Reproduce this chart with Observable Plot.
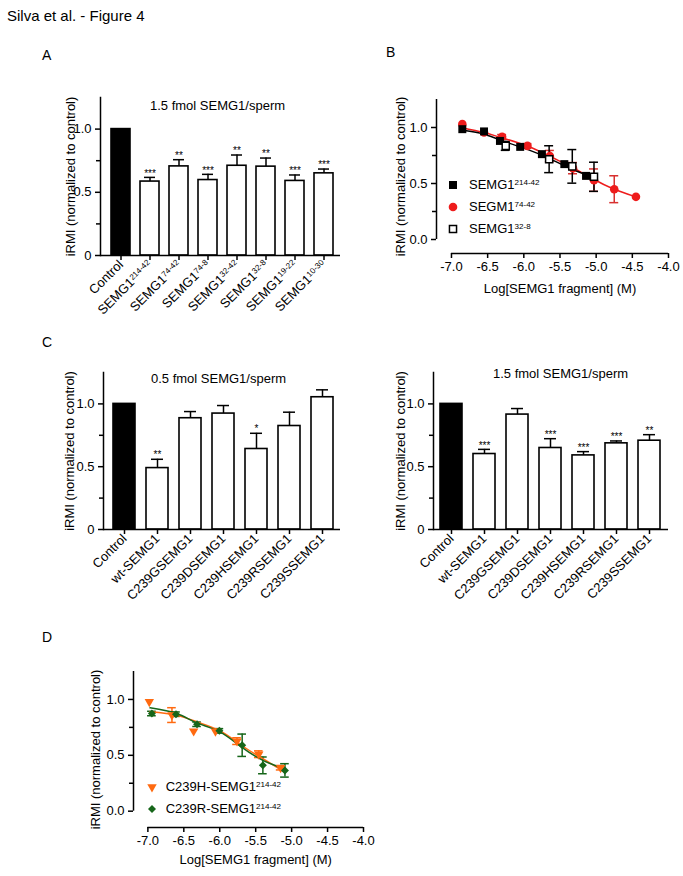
<!DOCTYPE html>
<html>
<head>
<meta charset="utf-8">
<script src="https://cdn.jsdelivr.net/npm/d3@7"></script>
<script src="https://cdn.jsdelivr.net/npm/@observablehq/plot@0.6"></script>
<style>
  html, body { margin: 0; padding: 0; background: #fff; }
  body { font-family: "Liberation Sans", Arimo, Arial, Helvetica, sans-serif; color: #000; }
  #fig { position: relative; width: 683px; height: 876px; overflow: hidden; background: #fff; }
  .abs { position: absolute; }
  .figtitle { font-size: 15px; line-height: 15px; white-space: nowrap; }
  .letter { font-size: 14px; line-height: 14px; }
  .legend { display: flex; align-items: center; height: 16px; font-size: 13px; line-height: 16px; white-space: nowrap; }
  .legend sup { font-size: 0.62em; vertical-align: 0.45em; line-height: 0; }
  svg text { -webkit-font-smoothing: antialiased; }
</style>
</head>
<body>
<div id="fig"></div>
<script>
const FONT = '"Liberation Sans", Arimo, Arial, Helvetica, sans-serif';

// ---------- Panel A : 1.5 fmol SEMG1/sperm (fragments) ----------
const aLabels = ["Control", "SEMG1^214-42", "SEMG1^74-42", "SEMG1^74-8", "SEMG1^32-42", "SEMG1^32-8", "SEMG1^19-22", "SEMG1^10-30"];
const aValues = [1.0, 0.585, 0.705, 0.597, 0.71, 0.703, 0.59, 0.65];
const aErrors = [0, 0.033, 0.053, 0.045, 0.085, 0.068, 0.047, 0.034];
const aStars  = ["", "***", "**", "***", "**", "**", "***", "***"];

// ---------- Panel C : mutants ----------
const cLabels = ["Control", "wt-SEMG1", "C239GSEMG1", "C239DSEMG1", "C239HSEMG1", "C239RSEMG1", "C239SSEMG1"];
const c05Values = [1.0, 0.489, 0.886, 0.923, 0.641, 0.824, 1.053];
const c05Errors = [0, 0.07, 0.053, 0.064, 0.125, 0.11, 0.059];
const c05Stars  = ["", "**", "", "", "*", "", ""];
const c15Values = [1.0, 0.601, 0.915, 0.649, 0.59, 0.686, 0.707];
const c15Errors = [0, 0.037, 0.048, 0.074, 0.03, 0.019, 0.048];
const c15Stars  = ["", "***", "", "***", "***", "***", "**"];

// ---------- Panel B : dose response ----------
const b214X = [-6.85, -6.55, -6.33, -6.05, -5.75, -5.44, -5.14];
const b214Y = [0.985, 0.965, 0.88, 0.827, 0.762, 0.673, 0.568];
const b74X = [-6.85, -6.55, -6.3, -5.95, -5.64, -5.32, -5.03, -4.75, -4.45];
const b74Y = [1.03, 0.955, 0.917, 0.836, 0.745, 0.637, 0.53, 0.449, 0.381];
const b74Err = [0, 0, 0.02, 0.02, 0.05, 0.05, 0.1, 0.12, 0];
const b328X = [-6.25, -5.65, -5.33, -5.03];
const b328Y = [0.836, 0.717, 0.653, 0.56];
const b328Err = [0.04, 0.12, 0.15, 0.13];
const bFit74X = [-6.87, -6.55, -6.32, -5.96, -5.63, -5.31, -5.04, -4.76, -4.46];
const bFit74Y = [1.0, 0.955, 0.911, 0.837, 0.739, 0.638, 0.54, 0.451, 0.383];
const bFit214X = [-6.87, -6.55, -6.23, -5.96, -5.63, -5.31, -5.04];
const bFit214Y = [0.977, 0.94, 0.866, 0.807, 0.718, 0.62, 0.555];

// ---------- Panel D : mutant fragments ----------
const dHX = [-6.98, -6.665, -6.363, -6.06, -5.76, -5.457, -5.153];
const dHY = [0.979, 0.86, 0.716, 0.715, 0.627, 0.51, 0.389];
const dHErr = [0, 0.066, 0, 0, 0.03, 0.03, 0.02];
const dRX = [-6.944, -6.609, -6.316, -6.005, -5.688, -5.4, -5.093];
const dRY = [0.874, 0.868, 0.778, 0.719, 0.59, 0.41, 0.365];
const dRErr = [0.02, 0.02, 0.02, 0.02, 0.1, 0.075, 0.06];
const dFitX = [-6.97, -6.6, -6.32, -6.0, -5.7, -5.4, -5.1];
const dFitHY = [0.889, 0.859, 0.8, 0.72, 0.59, 0.47, 0.35];
const dFitRY = [0.925, 0.874, 0.79, 0.71, 0.575, 0.455, 0.38];

const logTicks = [-7, -6.5, -6, -5.5, -5, -4.5, -4];
const yMajor = [0, 0.5, 1];
const yMinor = [0.25, 0.75];
const Y_LABEL = "iRMI (normalized to control)";
const X_LABEL = "Log[SEMG1 fragment] (M)";

const RED = "#ee1c1c", RED_ERR = "#d8302f", ORANGE = "#ff6a10", GREEN = "#16661a";

const fig = document.getElementById("fig");

function supify(root) {
  d3.select(root).selectAll("text").each(function () {
    const t = this.textContent;
    if (!t || !t.includes("^")) return;
    const [base, sup] = t.split("^");
    const sel = d3.select(this);
    sel.text(base);
    sel.append("tspan").attr("dy", "-0.45em").attr("font-size", "0.62em").text(sup);
  });
}
function place(node, left, top) {
  const d = document.createElement("div");
  d.className = "abs";
  d.style.left = left + "px";
  d.style.top = top + "px";
  d.appendChild(node);
  fig.appendChild(d);
  supify(node);
  return d;
}
function htmlText(cls, text, left, top) {
  const d = document.createElement("div");
  d.className = "abs " + cls;
  d.style.left = left + "px";
  d.style.top = top + "px";
  d.textContent = text;
  fig.appendChild(d);
}
function supHTML(s) {
  const [a, b] = s.split("^");
  return b ? `${a}<sup>${b}</sup>` : a;
}
function legend(items, cx, ys, textX) {
  items.forEach((it, i) => {
    const row = document.createElement("div");
    row.className = "abs legend";
    row.style.left = (cx - 7) + "px";
    row.style.top = (ys[i] - 8) + "px";
    const svg = d3.create("svg").attr("width", 14).attr("height", 16).style("display", "block").style("flex", "none");
    svg.append("path")
      .attr("transform", `translate(7,8) rotate(${it.rotate || 0})`)
      .attr("d", d3.symbol(it.symbol, Math.PI * it.r * it.r)())
      .attr("fill", it.fill)
      .attr("stroke", it.stroke || "none")
      .attr("stroke-width", it.sw || 0);
    row.appendChild(svg.node());
    const span = document.createElement("span");
    span.innerHTML = supHTML(it.label);
    span.style.marginLeft = (textX - (cx + 7)) + "px";
    row.appendChild(span);
    fig.appendChild(row);
  });
}

const baseStyle = {fontFamily: FONT, fontSize: "13px", color: "black", background: "transparent", overflow: "visible"};

function barPanel(o) {
  const data = o.labels.map((name, i) => ({name, value: o.values[i], err: o.errors[i], star: o.stars[i]}));
  const withErr = data.filter(d => d.err > 0);
  const starred = data.filter(d => d.star);
  return Plot.plot({
    width: o.width, height: o.height,
    marginLeft: o.ml, marginRight: o.mr, marginTop: o.mt, marginBottom: o.mb,
    style: baseStyle,
    x: {domain: o.labels, paddingInner: o.pi, paddingOuter: o.po, align: o.align},
    y: {domain: [0, 1.25]},
    marks: [
      Plot.ruleX(withErr, {x: "name", y1: "value", y2: d => d.value + d.err, strokeWidth: 1.5}),
      Plot.tickY(withErr, {x: "name", y: d => d.value + d.err, strokeWidth: 1.5, inset: o.capInset}),
      Plot.barY(data.filter(d => d.name === "Control"), {x: "name", y: "value", fill: "black", stroke: "black", strokeWidth: 1.6}),
      Plot.barY(data.filter(d => d.name !== "Control"), {x: "name", y: "value", fill: "white", stroke: "black", strokeWidth: 1.6}),
      Plot.text(starred, {x: "name", y: d => d.value + d.err, text: "star", dy: -4, fontSize: 10, fill: "black"}),
      Plot.text([o.title], {frameAnchor: "top", text: d => d, dx: o.titleDx, dy: o.titleDy, fill: "black"}),
      Plot.ruleY([0], {strokeWidth: 1.5}),
      Plot.frame({anchor: "left", strokeWidth: 1.5}),
      Plot.axisY({ticks: yMajor, tickFormat: d => d === 0 ? "0" : d.toFixed(1), tickSize: 5, strokeWidth: 1.5,
        label: Y_LABEL, labelAnchor: "center", labelArrow: "none", labelOffset: o.labelOffset}),
      Plot.axisY({ticks: yMinor, tickFormat: () => "", tickSize: 4, strokeWidth: 1.5, label: null}),
      Plot.axisX({tickRotate: -45, tickSize: 5, tickPadding: 2, strokeWidth: 1.5, label: null})
    ]
  });
}

function errBars(xs, ys, es, color, capHalf) {
  const d = xs.map((x, i) => ({x, y: ys[i], e: es[i]})).filter(d => d.e > 0);
  const caps = d.flatMap(p => [{x: p.x, y: p.y - p.e}, {x: p.x, y: p.y + p.e}]);
  return [
    Plot.ruleX(d, {x: "x", y1: p => p.y - p.e, y2: p => p.y + p.e, stroke: color, strokeWidth: 1.5}),
    Plot.ruleY(caps, {y: "y", x1: p => p.x - capHalf, x2: p => p.x + capHalf, stroke: color, strokeWidth: 1.5})
  ];
}
function pts(xs, ys) { return xs.map((x, i) => ({x, y: ys[i]})); }

function dosePanel(o) {
  const [x0] = o.xDomain, [y0] = o.yDomain;
  return Plot.plot({
    width: o.width, height: o.height,
    marginLeft: o.ml, marginRight: o.mr, marginTop: o.mt, marginBottom: o.mb,
    style: baseStyle,
    x: {domain: o.xDomain},
    y: {domain: o.yDomain},
    marks: [
      Plot.ruleX([{x: x0, y1: 0, y2: 1.25}], {x: "x", y1: "y1", y2: "y2", strokeWidth: 1.5}),
      Plot.ruleY([{y: y0, x1: logTicks[0], x2: logTicks[logTicks.length - 1]}], {y: "y", x1: "x1", x2: "x2", strokeWidth: 1.5}),
      Plot.axisY({ticks: yMajor, tickFormat: d => d.toFixed(1), tickSize: 5, strokeWidth: 1.5,
        label: Y_LABEL, labelAnchor: "center", labelArrow: "none", labelOffset: o.labelOffset}),
      Plot.axisY({ticks: yMinor, tickFormat: () => "", tickSize: 4, strokeWidth: 1.5, label: null}),
      Plot.axisX({ticks: logTicks, tickFormat: d => d.toFixed(1), tickSize: 5, tickPadding: 3, strokeWidth: 1.5, label: null}),
      Plot.text([X_LABEL], {x: () => (logTicks[0] + logTicks[logTicks.length - 1]) / 2, frameAnchor: "bottom",
        lineAnchor: "top", dy: o.xLabelDy, text: d => d, fill: "black"}),
      ...o.marks
    ]
  });
}

// ---- Title and panel letters ----
htmlText("figtitle", "Silva et al. - Figure 4", 7, 8);
htmlText("letter", "A", 42, 47.5);
htmlText("letter", "B", 386, 45);
htmlText("letter", "C", 42, 335);
htmlText("letter", "D", 42, 630);

// ---- Panel A ----
place(barPanel({
  labels: aLabels, values: aValues, errors: aErrors, stars: aStars, title: "1.5 fmol SEMG1/sperm",
  width: 345, height: 250, ml: 100, mr: 5, mt: 37, mb: 55,
  pi: 0.333, po: 0.167, align: 0.6, capInset: 4, titleDx: -3, titleDy: 3, labelOffset: 35
}), 0, 60);

// ---- Panel B ----
place(dosePanel({
  width: 343, height: 245, ml: 96, mr: 15, mt: 39, mb: 52,
  xDomain: [-7.207, -4], yDomain: [-0.125, 1.25], labelOffset: 41, xLabelDy: 30,
  marks: [
    ...errBars(b74X, b74Y, b74Err, RED_ERR, 0.062),
    ...errBars(b328X, b328Y, b328Err, "black", 0.062),
    Plot.line(pts(bFit74X, bFit74Y), {x: "x", y: "y", stroke: RED, strokeWidth: 1.5, curve: "natural"}),
    Plot.line(pts(bFit214X, bFit214Y), {x: "x", y: "y", stroke: "black", strokeWidth: 1.5, curve: "natural"}),
    Plot.dot(pts(b74X, b74Y), {x: "x", y: "y", r: 4.3, fill: RED, stroke: "none"}),
    Plot.dot(pts(b214X, b214Y), {x: "x", y: "y", symbol: "square", r: 4.5, fill: "black", stroke: "none"}),
    Plot.dot(pts(b328X, b328Y), {x: "x", y: "y", symbol: "square", r: 4.0, fill: "white", stroke: "black", strokeWidth: 1.5})
  ]
}), 340, 60);
legend([
  {label: "SEMG1^214-42", symbol: d3.symbolSquare, r: 4.5, fill: "black"},
  {label: "SEGM1^74-42", symbol: d3.symbolCircle, r: 4.3, fill: RED},
  {label: "SEMG1^32-8", symbol: d3.symbolSquare, r: 4.0, fill: "white", stroke: "black", sw: 1.5}
], 453.3, [185, 207, 229], 469);

// ---- Panel C left ----
place(barPanel({
  labels: cLabels, values: c05Values, errors: c05Errors, stars: c05Stars, title: "0.5 fmol SEMG1/sperm",
  width: 345, height: 270, ml: 103, mr: 5, mt: 42, mb: 71,
  pi: 0.3225, po: 0.152, align: 0.6, capInset: 5, titleDx: -3.5, titleDy: 1, labelOffset: 39
}), 0, 330);

// ---- Panel C right ----
place(barPanel({
  labels: cLabels, values: c15Values, errors: c15Errors, stars: c15Stars, title: "1.5 fmol SEMG1/sperm",
  width: 343, height: 270, ml: 93, mr: 15, mt: 42, mb: 71,
  pi: 0.333, po: 0.164, align: 0.48, capInset: 5, titleDx: 9.5, titleDy: -3.4, labelOffset: 38
}), 340, 330);

// ---- Panel D ----
place(dosePanel({
  width: 340, height: 246, ml: 93, mr: 17, mt: 41, mb: 49,
  xDomain: [-7.2, -4], yDomain: [-0.146, 1.25], labelOffset: 43, xLabelDy: 27,
  marks: [
    ...errBars(dHX, dHY, dHErr, ORANGE, 0.06),
    ...errBars(dRX, dRY, dRErr, GREEN, 0.06),
    Plot.line(pts(dFitX, dFitHY), {x: "x", y: "y", stroke: ORANGE, strokeWidth: 1.5, curve: "natural"}),
    Plot.line(pts(dFitX, dFitRY), {x: "x", y: "y", stroke: GREEN, strokeWidth: 1.5, curve: "natural"}),
    Plot.dot(pts(dHX, dHY), {x: "x", y: "y", symbol: "triangle", rotate: 180, r: 3.5, fill: ORANGE, stroke: "none"}),
    Plot.dot(pts(dRX, dRY), {x: "x", y: "y", symbol: "diamond2", r: 3.6, fill: GREEN, stroke: "none"})
  ]
}), 40, 630);
legend([
  {label: "C239H-SEMG1^214-42", symbol: d3.symbolTriangle, r: 3.5, fill: ORANGE, rotate: 180},
  {label: "C239R-SEMG1^214-42", symbol: d3.symbolDiamond2, r: 3.6, fill: GREEN}
], 151.5, [786.7, 809.3], 165.7);
</script>
</body>
</html>
